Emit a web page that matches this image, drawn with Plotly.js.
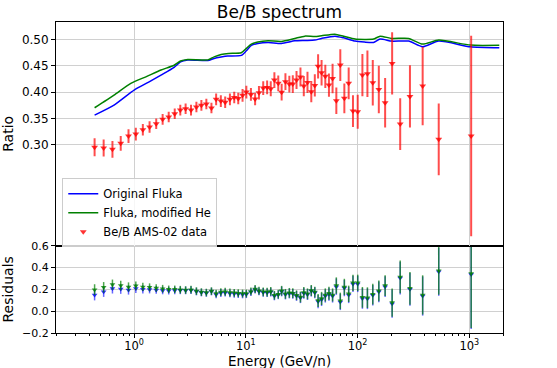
<!DOCTYPE html>
<html>
<head>
<meta charset="utf-8">
<script src="https://cdn.plot.ly/plotly-3.0.1.min.js"></script>
<style>
  html, body { margin: 0; padding: 0; background: #fff; }
  #chart { width: 557px; height: 368px; }
</style>
</head>
<body>
<div id="chart"></div>
<script>
// Be/B AMS-02 data points (GeV/n)
const energy = [0.443, 0.534, 0.640, 0.759, 0.891, 1.036, 1.197, 1.375, 1.577, 1.80,
  2.04, 2.31, 2.59, 2.89, 3.23, 3.61, 4.00, 4.43, 4.92, 5.42,
  5.97, 6.53, 7.20, 7.87, 8.55, 9.34, 10.1, 11.1, 12.1, 13.1,
  14.3, 15.5, 16.7, 18.0, 19.5, 20.9, 22.6, 24.5, 26.3, 28.4,
  30.8, 33.0, 35.6, 38.5, 41.4, 44.3, 47.6, 51.4, 55.4, 59.7,
  64.5, 70.0, 76.1, 83.2, 90.9, 100.2, 110.4, 122.4, 136.7, 154.8,
  176.3, 203.7, 240.5, 294, 382, 532, 1038];
const ratio = [0.2955, 0.2941, 0.2917, 0.303, 0.3169, 0.3206, 0.3288, 0.334, 0.340, 0.3485,
  0.353, 0.359, 0.366, 0.3686, 0.366, 0.3718, 0.375, 0.3775, 0.370, 0.3864,
  0.3831, 0.381, 0.3864, 0.390, 0.388, 0.394, 0.4002, 0.3958, 0.387, 0.3989,
  0.4078, 0.409, 0.4065, 0.423, 0.4167, 0.400, 0.420, 0.4153, 0.4153, 0.423,
  0.429, 0.4115, 0.4185, 0.401, 0.4128, 0.449, 0.4368, 0.430, 0.4134, 0.426,
  0.3837, 0.4513, 0.3883, 0.4167, 0.3642, 0.3629, 0.4324, 0.4349, 0.4178, 0.4053,
  0.380, 0.4545, 0.3396, 0.392, 0.4115, 0.3106, 0.3169];
const ratioErr = [0.017, 0.016, 0.016, 0.014, 0.013, 0.012, 0.011, 0.011, 0.010, 0.010,
  0.010, 0.010, 0.010, 0.010, 0.010, 0.010, 0.010, 0.010, 0.010, 0.011,
  0.011, 0.011, 0.011, 0.011, 0.011, 0.012, 0.012, 0.012, 0.012, 0.013,
  0.013, 0.013, 0.014, 0.015, 0.015, 0.016, 0.016, 0.016, 0.017, 0.017,
  0.018, 0.019, 0.020, 0.020, 0.021, 0.023, 0.024, 0.022, 0.022, 0.028,
  0.025, 0.030, 0.028, 0.030, 0.030, 0.032, 0.040, 0.044, 0.043, 0.045,
  0.047, 0.059, 0.049, 0.059, 0.074, 0.068, 0.19];

// Residuals of the two model curves
const resOrig = [0.149, 0.179, 0.208, 0.203, 0.194, 0.207, 0.200, 0.199, 0.195, 0.190,
  0.188, 0.190, 0.191, 0.190, 0.193, 0.180, 0.171, 0.167, 0.180, 0.154,
  0.167, 0.170, 0.163, 0.160, 0.157, 0.154, 0.156, 0.175, 0.197, 0.181,
  0.172, 0.169, 0.175, 0.140, 0.150, 0.181, 0.153, 0.162, 0.159, 0.140,
  0.124, 0.165, 0.153, 0.184, 0.169, 0.088, 0.107, 0.139, 0.155, 0.139,
  0.225, 0.085, 0.212, 0.149, 0.250, 0.250, 0.117, 0.114, 0.146, 0.177,
  0.225, 0.069, 0.304, 0.200, 0.139, 0.361, 0.336];
const resMod = [0.197, 0.219, 0.244, 0.235, 0.222, 0.232, 0.222, 0.219, 0.213, 0.206,
  0.200, 0.200, 0.197, 0.194, 0.197, 0.184, 0.175, 0.171, 0.184, 0.162,
  0.175, 0.178, 0.171, 0.168, 0.165, 0.162, 0.162, 0.181, 0.203, 0.187,
  0.178, 0.175, 0.181, 0.146, 0.156, 0.187, 0.159, 0.168, 0.165, 0.146,
  0.130, 0.171, 0.159, 0.190, 0.175, 0.098, 0.117, 0.149, 0.165, 0.149,
  0.235, 0.095, 0.222, 0.159, 0.260, 0.260, 0.127, 0.124, 0.156, 0.187,
  0.235, 0.079, 0.314, 0.210, 0.149, 0.371, 0.346];
const resErr = [0.050, 0.048, 0.046, 0.044, 0.042, 0.040, 0.038, 0.036, 0.035, 0.035,
  0.035, 0.035, 0.035, 0.035, 0.035, 0.035, 0.035, 0.035, 0.035, 0.035,
  0.036, 0.036, 0.036, 0.036, 0.036, 0.036, 0.036, 0.036, 0.036, 0.036,
  0.040, 0.040, 0.040, 0.040, 0.040, 0.045, 0.045, 0.045, 0.045, 0.045,
  0.050, 0.050, 0.050, 0.050, 0.050, 0.060, 0.060, 0.060, 0.060, 0.060,
  0.075, 0.075, 0.075, 0.075, 0.075, 0.075, 0.095, 0.095, 0.095, 0.095,
  0.095, 0.130, 0.150, 0.150, 0.180, 0.220, 0.500];

// Model curves
const origE = [0.443, 0.661, 1.0, 1.35, 1.74, 2.28, 2.6, 3.02, 4.57, 5.2,
  6.0, 6.90, 9.10, 10.1, 11.2, 12.8, 15.8, 20.8, 27.4, 34.0,
  41.4, 47.6, 62.7, 75, 94.8, 115, 138.7, 159, 202, 286,
  382, 532, 1023, 1853];
const origRatio = [0.3566, 0.3756, 0.404, 0.419, 0.4324, 0.447, 0.4574, 0.4610, 0.4600, 0.464,
  0.4665, 0.4684, 0.4697, 0.4784, 0.4885, 0.4924, 0.4943, 0.4924, 0.4973, 0.4980,
  0.4987, 0.5019, 0.5062, 0.5030, 0.4968, 0.4950, 0.4943, 0.5006, 0.4968, 0.4968,
  0.486, 0.4968, 0.486, 0.484];
const modE = [0.443, 0.661, 0.934, 1.3, 1.74, 2.28, 2.6, 3.02, 4.57, 5.2,
  6.01, 7.0, 9.10, 10.1, 11.2, 12.8, 15.8, 20.8, 27.4, 33.7,
  41.4, 47.6, 62.7, 75, 94.8, 115, 138.7, 159, 202, 286,
  382, 532, 1023, 1853];
const modRatio = [0.3705, 0.3945, 0.4167, 0.4300, 0.4420, 0.4510, 0.4590, 0.4620, 0.4612, 0.4670,
  0.4716, 0.4735, 0.4746, 0.4830, 0.4910, 0.4950, 0.4973, 0.4962, 0.5019, 0.5062,
  0.5055, 0.5070, 0.5100, 0.5060, 0.5006, 0.5000, 0.5006, 0.5062, 0.5019, 0.5019,
  0.4911, 0.4987, 0.4892, 0.489];

const xTickVals = [1, 10, 100, 1000];
const xTickText = ['10<sup>0</sup>', '10<sup>1</sup>', '10<sup>2</sup>', '10<sup>3</sup>'];

const minorVals = [];
[0.1, 1, 10, 100, 1000].forEach(d => {
  for (let k = 2; k <= 9; k++) minorVals.push(k * d);
});

const font = { family: 'DejaVu Sans, sans-serif', color: '#000' };
const gridColor = '#d0d0d0';

const traces = [
  {
    x: origE, y: origRatio, xaxis: 'x2', yaxis: 'y',
    mode: 'lines', name: 'Original Fluka',
    line: { color: '#0000ff', width: 1.5, shape: 'spline', smoothing: 0.6 }
  },
  {
    x: modE, y: modRatio, xaxis: 'x2', yaxis: 'y',
    mode: 'lines', name: 'Fluka, modified He',
    line: { color: '#008000', width: 1.5, shape: 'spline', smoothing: 0.6 }
  },
  {
    x: energy, y: ratio, xaxis: 'x2', yaxis: 'y',
    mode: 'markers', name: 'Be/B AMS-02 data',
    marker: { symbol: 'triangle-down', size: 6, color: 'rgba(255,0,0,0.8)' },
    error_y: { type: 'data', array: ratioErr, visible: true, color: 'rgba(255,0,0,0.7)', thickness: 2, width: 0 }
  },
  {
    x: energy, y: resOrig, xaxis: 'x', yaxis: 'y2',
    mode: 'markers', showlegend: false,
    marker: { symbol: 'triangle-down', size: 5, color: 'rgba(0,0,255,0.8)' },
    error_y: { type: 'data', array: resErr, visible: true, color: 'rgba(0,0,255,0.6)', thickness: 1.5, width: 0 }
  },
  {
    x: energy, y: resMod, xaxis: 'x', yaxis: 'y2',
    mode: 'markers', showlegend: false,
    marker: { symbol: 'triangle-down', size: 5, color: 'rgba(0,128,0,0.8)' },
    error_y: { type: 'data', array: resErr, visible: true, color: 'rgba(0,128,0,0.7)', thickness: 1.5, width: 0 }
  }
];

const xRange = [Math.log10(0.2), Math.log10(2000)];
const splitY = 0.2806;

const layout = {
  width: 557, height: 368,
  margin: { l: 56, r: 54, t: 22, b: 35 },
  paper_bgcolor: '#fff', plot_bgcolor: '#fff',
  font: Object.assign({ size: 11 }, font),
  title: {
    text: 'Be/B spectrum',
    font: Object.assign({ size: 17 }, font),
    x: 0.5, xref: 'paper', xanchor: 'center',
    y: 0.966, yref: 'container', yanchor: 'middle'
  },
  showlegend: true,
  legend: {
    x: 0.014, y: 0.276, xanchor: 'left', yanchor: 'bottom',
    bgcolor: 'rgba(255,255,255,0.8)', bordercolor: '#cccccc', borderwidth: 1,
    font: Object.assign({ size: 11.5 }, font),
    itemwidth: 30, tracegroupgap: 0
  },
  annotations: [{
    text: 'Energy (GeV/n)', xref: 'paper', yref: 'paper',
    x: 0.5, y: -0.091, xanchor: 'center', yanchor: 'middle',
    showarrow: false, font: Object.assign({ size: 13.5 }, font)
  }],
  xaxis: {
    type: 'log', range: xRange, anchor: 'y2',
    tickvals: xTickVals, ticktext: xTickText,
    ticks: 'outside', ticklen: 4, tickcolor: '#000', ticklabelstandoff: -2,
    minor: { tickvals: minorVals, ticks: 'outside', ticklen: 2, tickcolor: '#000', showgrid: false },
    showline: true, mirror: true, linecolor: '#000', linewidth: 1,
    showgrid: true, gridcolor: gridColor,
    tickfont: Object.assign({ size: 11.5 }, font)
  },
  xaxis2: {
    type: 'log', range: xRange, anchor: 'y', matches: 'x',
    showticklabels: false, ticks: '',
    tickvals: xTickVals,
    showline: true, mirror: true, linecolor: '#000', linewidth: 1,
    showgrid: true, gridcolor: gridColor
  },
  yaxis: {
    domain: [splitY, 1], range: [0.109, 0.533],
    tickvals: [0.30, 0.35, 0.40, 0.45, 0.50], tickformat: '.2f',
    ticks: 'outside', ticklen: 4, tickcolor: '#000',
    showline: true, mirror: true, linecolor: '#000', linewidth: 1,
    showgrid: true, gridcolor: gridColor, zeroline: false,
    tickfont: Object.assign({ size: 12 }, font),
    title: { text: 'Ratio', font: Object.assign({ size: 14 }, font), standoff: 8 }
  },
  yaxis2: {
    domain: [0, splitY], range: [-0.2, 0.6],
    tickvals: [-0.2, 0, 0.2, 0.4, 0.6], tickformat: '.1f',
    ticks: 'outside', ticklen: 4, tickcolor: '#000',
    showline: true, mirror: true, linecolor: '#000', linewidth: 1,
    showgrid: true, gridcolor: gridColor, zeroline: false,
    tickfont: Object.assign({ size: 11 }, font),
    title: { text: 'Residuals', font: Object.assign({ size: 14 }, font), standoff: 8 }
  }
};

Plotly.newPlot('chart', traces, layout, { displayModeBar: false, staticPlot: true });
</script>
</body>
</html>
